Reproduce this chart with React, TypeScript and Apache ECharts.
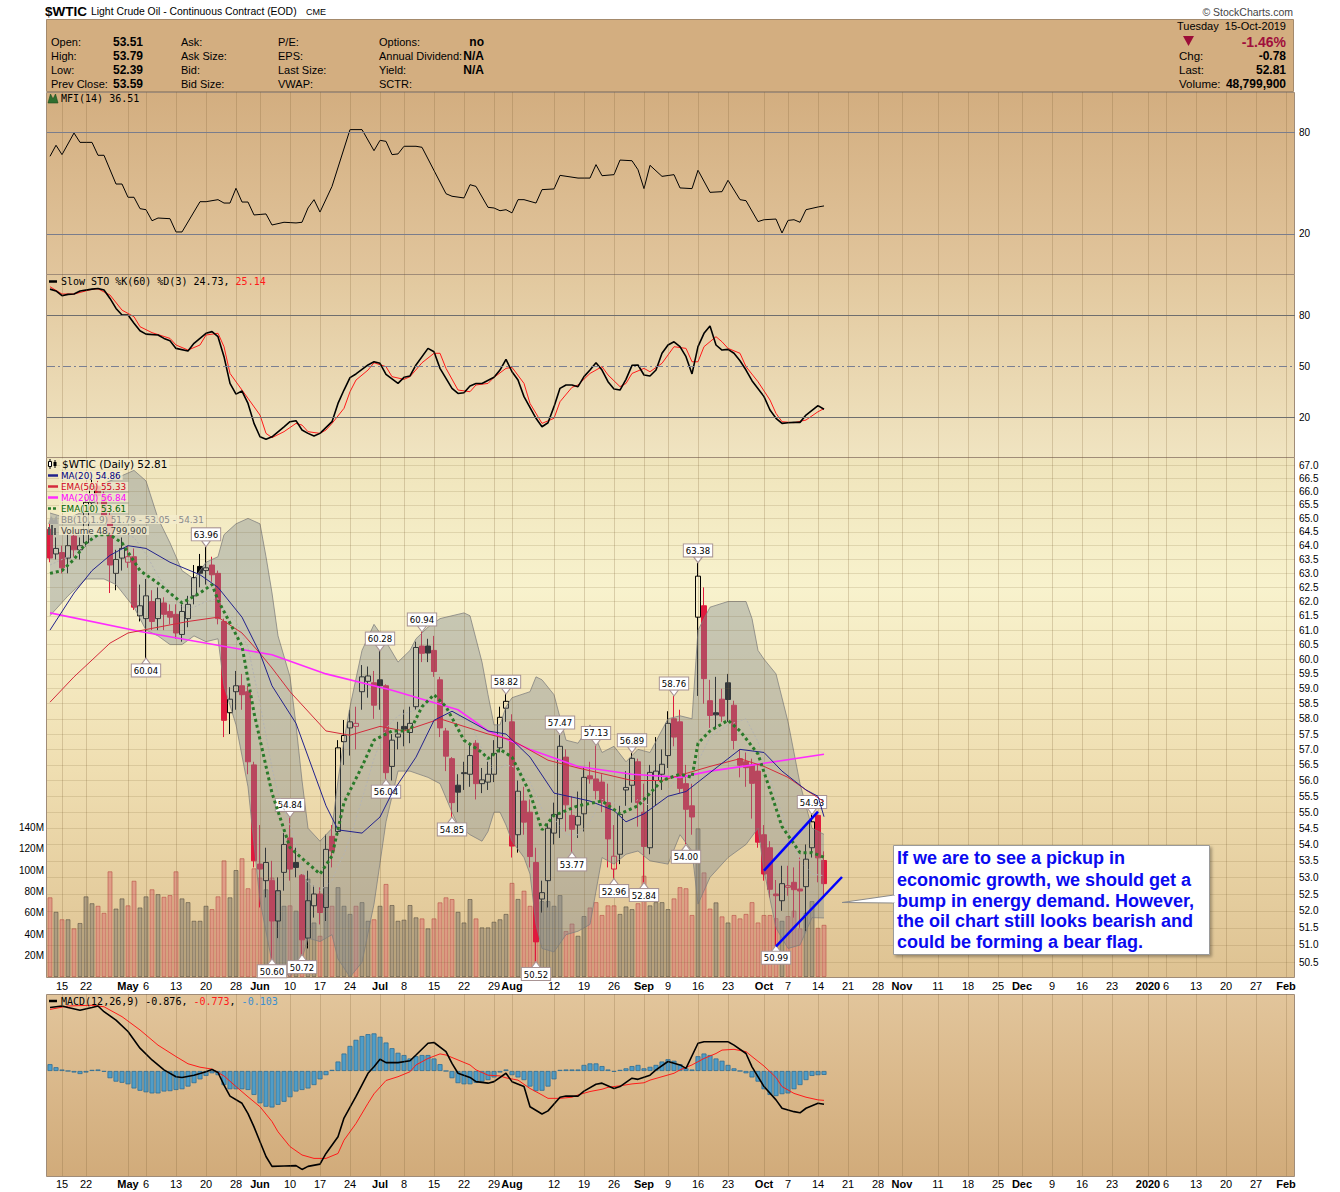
import React, { useEffect, useRef } from 'react';
import * as echarts from 'echarts';

// ---------------- categories ----------------
const CATEGORY_COUNT = 208; // trading days shown on the x axis (11 Apr 2019 .. 4 Feb 2020)
const HOLIDAYS = ['2019-04-19', '2019-05-27', '2019-07-04', '2019-09-02', '2019-11-28', '2019-12-25'];

const TICK_LABELS: [string, string][] = [
  ['2019-04-15', '15'], ['2019-04-22', '22'], ['2019-05-01', 'May'], ['2019-05-06', '6'], ['2019-05-13', '13'],
  ['2019-05-20', '20'], ['2019-05-28', '28'], ['2019-06-03', 'Jun'], ['2019-06-10', '10'], ['2019-06-17', '17'],
  ['2019-06-24', '24'], ['2019-07-01', 'Jul'], ['2019-07-08', '8'], ['2019-07-15', '15'], ['2019-07-22', '22'],
  ['2019-07-29', '29'], ['2019-08-01', 'Aug'], ['2019-08-12', '12'], ['2019-08-19', '19'], ['2019-08-26', '26'],
  ['2019-09-03', 'Sep'], ['2019-09-09', '9'], ['2019-09-16', '16'], ['2019-09-23', '23'], ['2019-10-01', 'Oct'],
  ['2019-10-07', '7'], ['2019-10-14', '14'], ['2019-10-21', '21'], ['2019-10-28', '28'], ['2019-11-01', 'Nov'],
  ['2019-11-11', '11'], ['2019-11-18', '18'], ['2019-11-25', '25'], ['2019-12-02', 'Dec'], ['2019-12-09', '9'],
  ['2019-12-16', '16'], ['2019-12-23', '23'], ['2020-01-01', '2020'], ['2020-01-06', '6'], ['2020-01-13', '13'],
  ['2020-01-20', '20'], ['2020-01-27', '27'], ['2020-02-03', 'Feb'],
];
const BOLD_TICKS = ['May', 'Jun', 'Jul', 'Aug', 'Sep', 'Oct', 'Nov', 'Dec', '2020', 'Feb'];

// ---------------- price data (daily OHLC) ----------------
const PREV_CLOSE_BEFORE_START = 64.61;
const opens = [
  64.6, 63.7, 63.75, 63.55, 64.35, 63.85, 64.1, 65.6, 66.2, 65.85,
  65.1, 63.0, 63.55, 63.4, 63.6, 61.5, 61.4, 62.0, 61.4, 61.95,
  61.65, 61.55, 60.85, 61.4, 62.2, 63.25, 63.1, 63.3, 63.0, 61.3,
  58.2, 58.9, 59.1, 58.9, 56.5, 53.4, 52.9, 52.9, 51.7, 53.15,
  54.2, 53.45, 53.05, 51.2, 52.15, 52.5, 52.1, 54.25, 54.4, 57.25,
  57.7, 57.75, 58.9, 59.25, 59.2, 59.3, 59.1, 56.45, 57.4, 57.75,
  57.55, 58.4, 60.45, 60.45, 60.3, 59.3, 57.6, 56.7, 55.85, 56.25,
  56.2, 57.2, 55.9, 55.95, 56.2, 57.05, 58.35, 57.9, 54.3, 55.35,
  55.0, 53.45, 52.35, 52.9, 54.35, 54.8, 56.75, 54.9, 54.6, 54.95,
  56.15, 56.05, 55.95, 55.3, 53.25, 53.7, 55.7, 55.85, 56.6, 55.0,
  53.9, 56.0, 56.2, 56.8, 58.0, 57.9, 55.9, 55.2, 61.45, 61.85,
  58.6, 58.2, 58.65, 59.2, 58.45, 56.7, 56.6, 56.5, 56.3, 54.3,
  53.9, 52.5, 52.3, 52.7, 52.85, 52.65, 52.72, 53.9, 54.9, 53.51,
];
const highs = [
  64.9, 64.3, 64.0, 64.4, 64.6, 64.3, 65.8, 66.5, 66.4, 66.0,
  65.3, 63.85, 64.3, 64.0, 63.9, 62.6, 62.8, 62.4, 62.5, 62.15,
  61.9, 61.9, 61.9, 62.2, 63.3, 63.7, 63.96, 63.6, 63.1, 61.4,
  59.05, 59.6, 59.5, 59.1, 56.6, 54.6, 53.9, 53.5, 53.0, 54.35,
  54.84, 53.9, 53.1, 53.2, 52.75, 52.7, 54.3, 54.6, 57.3, 57.96,
  58.3, 58.4, 59.8, 59.75, 59.6, 60.28, 59.15, 57.5, 57.9, 58.3,
  58.4, 60.6, 60.94, 60.7, 60.8, 59.4, 57.7, 56.75, 56.2, 56.6,
  57.2, 57.3, 56.4, 56.6, 57.3, 58.4, 58.82, 58.15, 56.0, 55.8,
  55.4, 53.9, 52.9, 54.65, 55.3, 57.47, 57.0, 55.5, 55.65, 56.4,
  56.6, 57.13, 56.2, 55.9, 54.6, 55.2, 56.3, 56.89, 56.7, 55.9,
  56.5, 57.4, 57.0, 58.25, 58.76, 58.3, 56.5, 55.9, 63.38, 62.5,
  59.3, 59.4, 59.0, 59.5, 58.6, 57.0, 56.9, 56.7, 56.5, 54.6,
  54.1, 52.92, 53.35, 53.35, 53.3, 53.6, 54.0, 54.93, 54.93, 53.79,
];
const lows = [
  63.4, 63.5, 63.0, 63.0, 63.6, 63.5, 63.96, 65.3, 65.5, 64.9,
  62.3, 62.4, 63.1, 63.2, 61.7, 61.3, 60.04, 61.0, 61.0, 61.0,
  61.2, 60.7, 60.6, 61.1, 61.9, 62.5, 62.6, 62.7, 61.2, 57.4,
  57.5, 58.3, 58.3, 56.2, 53.3, 52.1, 52.4, 50.6, 51.2, 52.6,
  52.9, 53.0, 50.72, 50.9, 51.8, 51.6, 51.7, 53.3, 54.3, 56.5,
  56.8, 57.0, 58.3, 58.7, 58.0, 58.3, 56.04, 56.0, 57.0, 57.1,
  57.2, 58.3, 59.9, 59.9, 59.4, 57.4, 56.3, 54.85, 55.0, 55.7,
  55.8, 55.4, 55.6, 55.7, 55.95, 56.9, 57.9, 53.6, 53.75, 54.3,
  53.3, 50.52, 51.95, 52.1, 54.0, 54.2, 54.4, 53.77, 54.2, 54.4,
  55.9, 55.4, 55.0, 53.3, 52.96, 53.4, 55.2, 55.3, 54.55, 52.84,
  53.7, 55.2, 55.7, 56.4, 57.1, 55.6, 54.0, 54.3, 58.76, 58.5,
  57.7, 57.7, 57.9, 57.9, 57.0, 56.1, 55.8, 54.8, 53.9, 52.9,
  52.4, 50.99, 52.0, 52.45, 51.8, 51.5, 51.4, 53.6, 52.85, 52.39,
];
const closes = [
  63.55, 63.9, 63.2, 64.0, 63.85, 64.0, 65.6, 66.2, 65.85, 65.1,
  63.3, 63.5, 63.9, 63.6, 61.8, 61.85, 62.2, 61.3, 62.1, 61.55,
  61.45, 60.9, 61.65, 61.9, 62.85, 63.0, 63.2, 62.95, 61.4, 57.95,
  58.65, 59.1, 58.8, 56.6, 53.5, 53.25, 53.45, 51.7, 52.6, 54.0,
  53.25, 53.3, 51.15, 52.3, 52.5, 51.95, 53.85, 53.8, 57.05, 57.45,
  57.9, 57.85, 59.4, 59.43, 58.45, 59.1, 56.25, 57.3, 57.5, 57.66,
  57.85, 60.4, 60.2, 60.21, 59.58, 57.7, 56.78, 55.3, 55.63, 56.22,
  56.8, 55.9, 56.02, 56.2, 56.87, 58.05, 58.58, 53.95, 55.66, 54.69,
  53.63, 51.09, 52.54, 54.5, 54.93, 57.1, 55.23, 54.47, 54.87, 56.1,
  56.05, 55.68, 55.35, 54.17, 53.64, 54.93, 55.78, 56.71, 55.3, 53.94,
  56.26, 56.3, 56.52, 57.85, 57.4, 55.75, 55.09, 54.85, 62.9, 59.34,
  58.11, 58.13, 58.09, 58.64, 57.29, 56.49, 56.41, 55.91, 54.07, 53.1,
  52.64, 52.45, 52.81, 52.75, 52.63, 52.59, 53.55, 54.7, 53.59, 52.81,
];
const volumesM = [
  74.5, 61, 54, 54, 45.5, 50.5, 75.4, 69, 66.6, 60,
  98.8, 64, 73.5, 67, 90, 65, 75.4, 82, 77.5, 75,
  76.6, 98.8, 73.5, 70, 52.6, 52.6, 66.6, 63.5, 75.4, 109,
  74.5, 100, 111, 83, 101.6, 93, 82, 93, 80.7, 66.6,
  67, 62, 96, 92, 51, 38.6, 84, 66.6, 84, 66.6,
  59, 66.6, 70, 52.6, 54, 66.6, 87, 67.3, 52.6, 53.6,
  67.3, 55.8, 54.8, 45.5, 54.8, 69.8, 74.5, 72.9, 61, 51,
  72.9, 54.8, 46.4, 46.4, 51.7, 54, 59, 88, 73, 80.7,
  66.6, 75, 71, 71, 66.6, 76.6, 43, 50, 38.6, 57,
  65, 70, 58, 67, 67, 59, 66, 63.5, 69, 94.7,
  67, 70, 70, 63.5, 73.5, 84, 83, 58, 139, 97.8,
  64, 69.8, 56.7, 51, 58, 54.8, 59, 70, 51, 58,
  58, 55, 52.6, 57, 62, 45.5, 60, 71, 46, 48.8,
];

// ---------------- overlays: [dayIndex, value] ----------------
const ma20 = [[0, 61.0], [4, 62.3], [7, 63.1], [10, 63.65], [13, 64.0], [16, 63.9], [20, 63.4], [25, 62.95], [28, 62.5], [32, 61.45], [35, 60.2], [37, 59.1], [41, 57.85], [46, 55.2], [48, 54.45], [52, 54.35], [55, 54.85], [57, 55.6], [61, 56.75], [64, 57.95], [67, 58.25], [73, 57.6], [76, 57.5], [80, 56.75], [84, 55.6], [90, 55.35], [94, 55.05], [96, 54.7], [99, 54.95], [103, 55.5], [106, 55.65], [110, 56.25], [115, 57.0], [119, 56.9], [122, 56.3], [126, 55.7], [128, 55.5], [129, 54.86]];
const ema50 = [[0, 58.55], [4, 59.4], [7, 59.97], [10, 60.55], [13, 60.9], [18, 61.1], [23, 61.3], [28, 61.45], [32, 60.9], [35, 60.2], [37, 59.7], [40, 58.9], [46, 57.6], [50, 57.46], [55, 57.75], [59, 57.6], [65, 58.0], [73, 57.5], [77, 57.3], [83, 56.65], [88, 56.4], [97, 56.0], [102, 56.0], [110, 56.45], [115, 56.7], [119, 56.45], [123, 56.1], [126, 55.7], [129, 55.33]];
const ma200 = [[0, 61.6], [15, 60.95], [37, 60.15], [46, 59.5], [57, 58.95], [68, 58.3], [73, 57.6], [80, 57.0], [88, 56.45], [97, 56.2], [105, 56.1], [110, 56.3], [119, 56.55], [129, 56.84]];
const ema10 = [[0, 63.0], [2, 63.1], [4, 63.5], [6, 64.1], [8, 64.4], [10, 64.4], [12, 64.1], [15, 63.1], [18, 62.65], [22, 61.95], [25, 62.3], [27, 62.6], [28, 62.05], [32, 60.45], [34, 58.2], [37, 55.6], [40, 53.9], [45, 53.1], [47, 53.65], [49, 55.3], [52, 56.45], [54, 57.3], [57, 57.6], [60, 57.6], [62, 58.4], [64, 58.8], [66, 58.4], [69, 57.3], [72, 56.9], [73, 56.7], [75, 57.0], [77, 56.75], [80, 55.6], [82, 54.45], [84, 54.9], [88, 55.2], [92, 55.35], [95, 54.95], [98, 55.2], [102, 56.0], [105, 56.2], [107, 56.1], [108, 57.2], [110, 57.6], [113, 57.95], [115, 57.6], [118, 56.85], [120, 55.7], [122, 54.55], [125, 53.75], [127, 53.75], [129, 53.61]];
const bbUpper = [[0, 65.2], [3, 65.0], [6, 65.3], [9, 66.3], [11, 66.5], [14, 66.8], [16, 66.4], [18, 65.0], [20, 64.1], [22, 63.1], [24, 62.8], [26, 63.4], [28, 63.6], [29, 64.4], [31, 64.8], [33, 65.0], [35, 64.8], [36, 63.6], [37, 62.3], [38, 60.8], [40, 59.4], [41, 57.8], [42, 56.0], [43, 54.5], [45, 54.1], [47, 54.5], [48, 56.0], [49, 57.3], [50, 58.4], [52, 60.3], [54, 61.2], [56, 60.6], [58, 59.9], [60, 60.3], [61, 60.7], [63, 61.1], [65, 61.4], [67, 61.5], [69, 61.6], [70, 61.5], [72, 59.9], [73, 58.8], [74, 57.8], [75, 57.8], [76, 58.4], [77, 58.7], [80, 58.9], [81, 59.4], [82, 59.3], [84, 58.8], [86, 57.3], [88, 57.2], [90, 57.8], [92, 56.9], [94, 57.1], [96, 56.6], [98, 57.0], [100, 56.9], [103, 58.0], [105, 58.1], [107, 58.0], [108, 61.0], [110, 61.8], [113, 62.0], [116, 62.0], [117, 61.4], [118, 60.3], [119, 60.0], [121, 59.5], [123, 57.9], [125, 55.9], [127, 54.5], [129, 54.31]];
const bbLower = [[0, 61.5], [3, 62.2], [6, 62.8], [9, 62.8], [11, 62.6], [14, 61.8], [16, 61.0], [18, 60.8], [20, 60.5], [22, 60.5], [24, 60.8], [26, 60.6], [28, 60.7], [29, 59.1], [31, 57.8], [33, 55.8], [35, 52.3], [37, 50.5], [38, 50.4], [40, 49.9], [42, 50.6], [43, 51.2], [45, 51.1], [47, 51.3], [48, 50.6], [50, 49.8], [52, 50.5], [54, 52.2], [56, 54.7], [58, 56.3], [60, 56.3], [63, 56.1], [65, 55.9], [67, 55.0], [68, 54.6], [70, 54.3], [72, 54.1], [73, 54.4], [74, 55.0], [75, 55.0], [76, 54.6], [77, 54.1], [79, 53.6], [80, 53.1], [81, 51.6], [82, 50.9], [84, 50.8], [86, 51.3], [88, 51.4], [90, 51.6], [92, 53.6], [94, 53.4], [96, 53.7], [98, 53.8], [100, 53.5], [103, 53.4], [105, 54.3], [107, 53.8], [108, 52.2], [110, 53.0], [113, 53.6], [116, 54.0], [118, 54.5], [119, 53.2], [121, 51.5], [123, 50.9], [125, 51.0], [127, 51.8], [129, 51.79]];
const bbMiddle = [[0, 63.3], [3, 63.6], [6, 64.0], [9, 64.5], [11, 64.5], [14, 64.3], [16, 63.7], [18, 62.9], [20, 62.3], [22, 61.8], [24, 61.8], [26, 62.0], [28, 62.1], [29, 61.7], [31, 61.3], [33, 60.4], [35, 58.5], [37, 56.4], [38, 55.6], [40, 54.6], [42, 53.3], [43, 52.85], [45, 52.6], [47, 52.9], [48, 53.35], [49, 53.7], [50, 54.2], [52, 55.4], [54, 56.7], [56, 57.7], [58, 58.1], [61, 58.3], [64, 58.6], [66, 58.5], [68, 58.1], [70, 57.9], [72, 57.0], [74, 56.3], [76, 56.5], [78, 56.4], [80, 55.96], [82, 55.1], [84, 54.8], [86, 54.3], [88, 54.3], [90, 54.7], [92, 55.4], [94, 55.3], [96, 55.1], [98, 55.4], [100, 55.2], [103, 55.7], [105, 56.2], [107, 55.9], [108, 56.6], [110, 57.4], [113, 57.8], [116, 58.0], [118, 57.25], [119, 56.6], [121, 55.5], [123, 54.4], [125, 53.5], [127, 53.1], [129, 53.05]];
const HIGH_LABELS = [[26, 63.96], [40, 54.84], [55, 60.28], [62, 60.94], [76, 58.82], [85, 57.47], [91, 57.13], [97, 56.89], [104, 58.76], [108, 63.38], [127, 54.93]];
const LOW_LABELS = [[16, 60.04], [37, 50.60], [42, 50.72], [56, 56.04], [67, 54.85], [81, 50.52], [87, 53.77], [94, 52.96], [99, 52.84], [106, 54.00], [121, 50.99]];
const trendUpper = [[119, 53.2], [128, 55.02]];
const trendLower = [[121, 50.96], [132, 53.01]];
const PRICE_TICKS = [67.0, 66.5, 66.0, 65.5, 65.0, 64.5, 64.0, 63.5, 63.0, 62.5, 62.0, 61.5, 61.0, 60.5, 60.0, 59.5, 59.0, 58.5, 58.0, 57.5, 57.0, 56.5, 56.0, 55.5, 55.0, 54.5, 54.0, 53.5, 53.0, 52.5, 52.0, 51.5, 51.0, 50.5];

// ---------------- indicators ----------------
const mfi = [[0, 65.7], [1, 72.2], [2, 66.7], [4, 79.4], [5, 73.9], [7, 73.9], [8, 66.3], [9, 66.3], [11, 49.4], [12, 49.4], [13, 41.6], [14, 41.6], [15, 34.9], [16, 34.3], [17, 27.8], [18, 29.4], [20, 29.0], [21, 21.2], [22, 21.2], [25, 39.0], [26, 39.0], [28, 40.2], [29, 38.2], [30, 38.2], [31, 46.9], [32, 38.8], [33, 38.8], [34, 31.2], [36, 31.8], [37, 25.3], [39, 26.9], [41, 26.5], [42, 26.9], [43, 35.3], [44, 40.2], [45, 32.9], [47, 48.0], [50, 81.4], [52, 81.4], [54, 69.0], [55, 75.1], [56, 74.5], [57, 66.7], [58, 67.1], [59, 71.6], [61, 71.6], [62, 71.0], [66, 43.7], [67, 42.2], [69, 41.2], [70, 49.0], [71, 48.0], [73, 35.7], [74, 35.3], [75, 33.7], [76, 34.3], [77, 32.4], [78, 40.2], [79, 40.2], [81, 38.2], [82, 46.1], [84, 46.5], [85, 54.5], [88, 52.9], [90, 52.9], [91, 60.8], [92, 54.3], [94, 54.9], [95, 63.5], [97, 63.1], [98, 57.8], [99, 46.7], [100, 60.4], [102, 53.9], [104, 54.9], [105, 47.1], [107, 46.7], [108, 57.5], [110, 44.5], [112, 44.9], [113, 51.6], [115, 40.2], [116, 39.6], [118, 27.3], [119, 28.4], [121, 28.8], [122, 20.6], [123, 28.0], [124, 28.4], [125, 26.9], [126, 34.3], [128, 35.9], [129, 36.51]];
const stoK = [[0, 95.7], [1, 94.6], [2, 91.8], [3, 92.6], [4, 92.8], [5, 94.6], [7, 95.7], [8, 96.1], [9, 95.2], [10, 90.2], [11, 84.3], [12, 80.4], [13, 80.4], [14, 75.5], [15, 71.1], [16, 69.1], [18, 68.6], [19, 66.6], [20, 65.2], [21, 60.7], [23, 59.1], [24, 63.7], [26, 69.6], [27, 70.6], [28, 67.6], [29, 55.8], [30, 40.0], [31, 33.7], [32, 35.5], [33, 28.2], [34, 16.4], [35, 8.5], [36, 7.0], [37, 8.5], [39, 14.4], [40, 17.4], [41, 18.0], [42, 12.5], [43, 10.5], [44, 8.9], [45, 10.5], [47, 17.4], [48, 28.2], [49, 36.1], [50, 43.4], [51, 45.6], [53, 50.9], [54, 52.8], [55, 51.9], [56, 45.4], [58, 40.0], [59, 43.6], [60, 44.4], [61, 50.9], [63, 60.7], [64, 58.7], [65, 48.9], [67, 37.1], [68, 34.1], [69, 34.5], [70, 38.5], [71, 40.0], [72, 40.0], [74, 43.6], [75, 47.9], [76, 54.2], [77, 46.9], [78, 42.0], [79, 32.2], [81, 19.4], [82, 14.4], [83, 16.8], [84, 26.3], [85, 37.1], [86, 39.1], [87, 39.1], [88, 38.1], [89, 44.0], [90, 47.9], [91, 52.2], [92, 47.9], [93, 41.0], [94, 36.7], [95, 36.1], [96, 42.4], [97, 50.7], [98, 50.9], [99, 45.0], [100, 44.4], [101, 47.9], [102, 57.8], [103, 62.7], [104, 64.6], [105, 61.7], [106, 55.8], [107, 45.6], [108, 61.7], [109, 69.6], [110, 73.9], [111, 62.7], [112, 59.7], [113, 60.1], [114, 57.8], [115, 53.4], [116, 47.9], [117, 41.6], [119, 32.2], [120, 24.3], [121, 19.4], [122, 16.4], [123, 16.8], [124, 17.0], [125, 17.0], [126, 21.3], [128, 26.9], [129, 24.73]];
const stoD = [[0, 97.1], [2, 92.8], [4, 92.8], [7, 95.6], [8, 95.9], [10, 92.2], [12, 83.3], [14, 79.4], [15, 73.5], [17, 70.0], [20, 66.6], [21, 62.7], [23, 59.7], [25, 62.7], [26, 68.6], [28, 69.6], [29, 61.7], [30, 45.9], [32, 36.1], [33, 31.2], [35, 21.3], [36, 10.5], [37, 8.0], [39, 11.5], [41, 16.4], [42, 15.4], [43, 11.5], [45, 10.5], [46, 12.5], [47, 16.4], [49, 25.3], [50, 35.1], [51, 42.0], [53, 47.9], [54, 52.2], [56, 49.9], [57, 44.0], [59, 42.4], [60, 44.0], [62, 52.2], [64, 57.8], [65, 57.8], [66, 48.9], [68, 36.1], [70, 35.1], [71, 39.1], [73, 40.0], [74, 43.6], [76, 48.9], [77, 49.5], [79, 40.0], [80, 28.2], [82, 16.4], [84, 19.4], [85, 29.2], [87, 37.7], [88, 39.1], [90, 45.9], [92, 49.9], [93, 45.0], [95, 38.1], [96, 40.0], [97, 45.9], [99, 48.9], [100, 46.9], [102, 51.9], [104, 61.7], [106, 60.7], [107, 52.8], [108, 52.8], [109, 61.7], [111, 67.6], [112, 64.6], [113, 60.7], [115, 57.8], [116, 49.9], [118, 41.0], [120, 30.2], [121, 22.3], [122, 17.4], [124, 16.8], [126, 18.4], [128, 23.3], [129, 25.14]];
const macd = [[0, 1.67], [2, 1.71], [3, 1.67], [5, 1.60], [7, 1.67], [8, 1.71], [9, 1.56], [11, 1.34], [13, 1.04], [15, 0.60], [17, 0.29], [19, 0.03], [21, -0.15], [22, -0.17], [24, -0.11], [26, -0.02], [27, 0.04], [28, -0.04], [29, -0.37], [30, -0.66], [32, -0.85], [33, -1.12], [34, -1.47], [35, -1.86], [36, -2.25], [37, -2.51], [39, -2.50], [41, -2.49], [42, -2.59], [43, -2.51], [45, -2.45], [46, -2.17], [48, -1.73], [49, -1.24], [51, -0.67], [53, -0.06], [54, 0.11], [55, 0.31], [56, 0.22], [58, 0.22], [60, 0.27], [61, 0.42], [63, 0.73], [64, 0.75], [66, 0.51], [67, 0.20], [68, -0.06], [70, -0.17], [71, -0.28], [73, -0.32], [74, -0.28], [76, -0.06], [77, -0.28], [79, -0.41], [80, -0.94], [82, -1.13], [83, -1.05], [85, -0.69], [86, -0.66], [88, -0.66], [89, -0.53], [91, -0.35], [92, -0.32], [94, -0.46], [95, -0.41], [97, -0.19], [98, -0.22], [100, -0.11], [101, 0.03], [103, 0.25], [105, 0.16], [106, 0.07], [108, 0.73], [109, 0.77], [111, 0.77], [113, 0.77], [114, 0.68], [116, 0.46], [117, 0.11], [119, -0.41], [121, -0.76], [122, -0.98], [124, -1.07], [125, -1.10], [126, -0.98], [128, -0.85], [129, -0.876]];
const macdSignal = [[0, 1.62], [3, 1.71], [7, 1.73], [9, 1.69], [12, 1.43], [15, 1.08], [18, 0.68], [21, 0.38], [23, 0.19], [25, 0.10], [27, 0.05], [29, -0.13], [31, -0.41], [33, -0.68], [35, -0.94], [37, -1.33], [38, -1.6], [40, -1.99], [42, -2.21], [44, -2.30], [46, -2.30], [48, -2.17], [49, -1.82], [51, -1.38], [53, -0.85], [54, -0.6], [56, -0.25], [58, -0.15], [60, -0.02], [61, 0.16], [63, 0.33], [65, 0.45], [66, 0.42], [68, 0.29], [70, 0.16], [71, 0.03], [73, -0.11], [75, -0.13], [76, -0.18], [78, -0.24], [80, -0.46], [82, -0.63], [83, -0.72], [85, -0.72], [87, -0.69], [88, -0.63], [90, -0.54], [92, -0.48], [93, -0.43], [95, -0.39], [97, -0.34], [99, -0.31], [100, -0.24], [102, -0.15], [104, -0.06], [105, 0.03], [107, 0.16], [109, 0.33], [111, 0.46], [112, 0.55], [114, 0.57], [116, 0.51], [117, 0.38], [119, 0.13], [121, -0.17], [122, -0.41], [124, -0.59], [126, -0.69], [128, -0.76], [129, -0.773]];
const macdHist = [
  0.18, 0.10, 0.04, 0, -0.04, -0.08, -0.04, 0.03, 0.04, -0.02,
  -0.19, -0.28, -0.31, -0.35, -0.46, -0.52, -0.56, -0.59, -0.59, -0.54,
  -0.53, -0.50, -0.48, -0.41, -0.32, -0.22, -0.13, -0.06, -0.11, -0.37,
  -0.48, -0.48, -0.48, -0.50, -0.63, -0.85, -0.94, -0.96, -0.89, -0.81,
  -0.69, -0.54, -0.50, -0.46, -0.37, -0.22, -0.11, 0.03, 0.25, 0.46,
  0.66, 0.82, 0.92, 0.97, 0.99, 0.90, 0.75, 0.60, 0.48, 0.42,
  0.33, 0.39, 0.42, 0.42, 0.33, 0.18, 0, -0.19, -0.32, -0.35,
  -0.35, -0.31, -0.28, -0.24, -0.17, -0.04, 0.04, -0.11, -0.17, -0.24,
  -0.41, -0.53, -0.52, -0.41, -0.22, 0.03, 0.04, 0.04, 0.04, 0.16,
  0.20, 0.20, 0.13, 0.04, -0.02, 0.03, 0.07, 0.13, 0.16, 0.07,
  0.11, 0.16, 0.25, 0.31, 0.27, 0.18, 0.07, 0.04, 0.39, 0.46,
  0.42, 0.33, 0.27, 0.16, 0.07, 0, -0.06, -0.17, -0.28, -0.48,
  -0.63, -0.66, -0.61, -0.59, -0.48, -0.37, -0.24, -0.13, -0.11, -0.103,
];
const MACD_TICKS = [2.0, 1.5, 1.0, 0.5, 0.0, -0.5, -1.0, -1.5, -2.0, -2.5];

// ---------------- layout ----------------
const PL = 47, PW = 1248;
const MFI_T = 92, MFI_H = 182;
const STO_T = 274, STO_H = 183;
const PR_T = 457, PR_H = 520;
const MD_T = 994, MD_H = 182;
const RED = '#e0193d';
const VGRID = 'rgba(120,90,50,0.24)';

function buildTradingDays() {
  const out = [];
  const d = new Date(Date.UTC(2019, 3, 11));
  while (out.length < CATEGORY_COUNT) {
    const wd = d.getUTCDay();
    const s = d.toISOString().slice(0, 10);
    if (wd !== 0 && wd !== 6 && HOLIDAYS.indexOf(s) < 0) out.push(s);
    d.setUTCDate(d.getUTCDate() + 1);
  }
  return out;
}

function buildOption() {
  const days = buildTradingDays();
  const tickMap = new Map(TICK_LABELS);
  const vLines = TICK_LABELS.map(([d]) => ({ xAxis: d, label: { show: false }, lineStyle: { color: VGRID, width: 1, type: 'solid', opacity: 1 } }));
  const mlBase = (data) => ({
    silent: true, symbol: ['none', 'none'], animation: false,
    label: { show: true, position: 'end', distance: 4, fontSize: 10, fontFamily: 'Liberation Sans', color: '#000' },
    emphasis: { disabled: true },
    data,
  });
  const hl = (v, text, style) => ({ yAxis: v, label: text == null ? { show: false } : { show: true, formatter: text }, lineStyle: Object.assign({ width: 1, type: 'solid' }, style) });

  const grids = [
    { left: PL, top: MFI_T, width: PW, height: MFI_H },
    { left: PL, top: STO_T, width: PW, height: STO_H },
    { left: PL, top: PR_T, width: PW, height: PR_H },
    { left: PL, top: PR_T, width: PW, height: PR_H },
    { left: PL, top: MD_T, width: PW, height: MD_H },
  ].map((g) => Object.assign({ containLabel: false, outerBoundsMode: 'none', show: false }, g));

  const labelFmt = (val) => {
    const l = tickMap.get(val);
    if (!l) return '';
    return BOLD_TICKS.indexOf(l) >= 0 ? '{b|' + l + '}' : l;
  };
  const xAxis = [0, 1, 2, 3, 4].map((gi) => ({
    type: 'category', gridIndex: gi, data: days, boundaryGap: true,
    axisLine: { show: false }, axisTick: { show: false }, splitLine: { show: false },
    axisLabel: (gi === 2 || gi === 4) ? {
      show: true, interval: 0, margin: gi === 2 ? 3 : 2, fontSize: 11, fontFamily: 'Liberation Sans', color: '#000',
      formatter: labelFmt,
      rich: { b: { fontWeight: 'bold', fontSize: 11, fontFamily: 'Liberation Sans', color: '#000' } },
    } : { show: false },
  }));
  const hiddenY = (gi, min, max, type) => ({ type: type || 'value', gridIndex: gi, min, max, show: false, axisLabel: { show: false }, splitLine: { show: false }, axisLine: { show: false }, axisTick: { show: false } });
  const yAxis = [
    hiddenY(0, -3.53, 103.53),
    hiddenY(1, -3.45, 104.63),
    Object.assign(hiddenY(2, 50.08, 67.31, 'log'), { logBase: 10 }),
    {
      type: 'value', gridIndex: 3, min: 0, max: 486e6, interval: 20e6, position: 'left',
      axisLine: { show: false }, axisTick: { show: false }, splitLine: { show: false },
      axisLabel: {
        show: true, margin: 3, fontSize: 10, fontFamily: 'Liberation Sans', color: '#000',
        formatter: (v) => (v >= 20e6 && v <= 140e6 ? Math.round(v / 1e6) + 'M' : ''),
      },
    },
    hiddenY(4, -2.763, 2.026),
  ];

  const candleData = opens.map((o, i) => {
    const c = closes[i];
    const pc = i === 0 ? PREV_CLOSE_BEFORE_START : closes[i - 1];
    const col = c >= pc ? '#000000' : RED;
    const fill = c > o ? 'rgba(0,0,0,0)' : col;
    return { value: [o, c, lows[i], highs[i]], itemStyle: { color: fill, color0: fill, borderColor: col, borderColor0: col, borderWidth: 1 } };
  });
  const volData = volumesM.map((v, i) => {
    const pc = i === 0 ? PREV_CLOSE_BEFORE_START : closes[i - 1];
    const up = closes[i] >= pc;
    return {
      value: v * 1e6,
      itemStyle: up
        ? { color: 'rgba(110,104,100,0.45)', borderColor: 'rgba(80,72,60,0.55)', borderWidth: 1 }
        : { color: 'rgba(214,98,104,0.45)', borderColor: 'rgba(185,80,70,0.6)', borderWidth: 1 },
    };
  });
  const histData = macdHist.map((v) => v);

  const markData = HIGH_LABELS.map(([i, v]) => ({ coord: [i, v], value: v, symbolRotate: 180, symbolOffset: [0, -3], label: { position: 'top', distance: 0 } }))
    .concat(LOW_LABELS.map(([i, v]) => ({ coord: [i, v], value: v, symbolRotate: 0, symbolOffset: [0, 3], label: { position: 'bottom', distance: 0 } })));

  const line = (name, xi, data, style, z) => ({
    type: 'line', name, xAxisIndex: xi, yAxisIndex: xi, data, symbol: 'none', showSymbol: false, silent: true, z,
    lineStyle: style, emphasis: { disabled: true },
  });

  const series = [
    Object.assign(line('MFI', 0, mfi, { color: '#000', width: 1 }, 3), {
      markLine: mlBase(vLines.concat([
        hl(80, '80', { color: '#7a7d8c' }), hl(20, '20', { color: '#7a7d8c' }), hl(50, '50', { opacity: 0 }),
      ])),
    }),
    Object.assign(line('%K', 1, stoK, { color: '#000', width: 1.6 }, 4), {
      markLine: mlBase(vLines.concat([
        hl(80, '80', { color: '#6e6e6e' }), hl(20, '20', { color: '#6e6e6e' }), hl(50, '50', { color: '#7a7f92', type: [8, 3, 2, 3] }),
      ])),
    }),
    line('%D', 1, stoD, { color: '#ff1a1a', width: 1 }, 3),
    Object.assign(line('priceGrid', 2, [[0, 60]], { width: 0, opacity: 0 }, 1), {
      markLine: mlBase(vLines.concat(PRICE_TICKS.map((v) => hl(v, v.toFixed(1), { color: 'rgba(120,95,50,0.17)' })))),
    }),
    { type: 'bar', name: 'Volume', xAxisIndex: 3, yAxisIndex: 3, data: volData, barWidth: 5, silent: true, z: 2, emphasis: { disabled: true } },
    { type: 'candlestick', name: '$WTIC', xAxisIndex: 2, yAxisIndex: 2, data: candleData, barWidth: 5, silent: true, z: 3, emphasis: { disabled: true } },
    {
      type: 'custom', name: 'BB', xAxisIndex: 2, yAxisIndex: 2, z: 4, silent: true, clip: true, data: [[0, 60]],
      renderItem: (params, api) => {
        const cs = params.coordSys;
        const bottom = cs.y + cs.height;
        const clamp = (p) => [p[0], Math.min(p[1], bottom)];
        const up = bbUpper.map(([i, v]) => clamp(api.coord([i, v])));
        const lo = bbLower.map(([i, v]) => clamp(api.coord([i, v])));
        return {
          type: 'group',
          children: [
            { type: 'polygon', shape: { points: up.concat(lo.slice().reverse()) }, style: { fill: 'rgba(128,138,145,0.40)' } },
            { type: 'polyline', shape: { points: up }, style: { fill: null, stroke: 'rgba(125,125,125,0.75)', lineWidth: 1 } },
            { type: 'polyline', shape: { points: lo }, style: { fill: null, stroke: 'rgba(125,125,125,0.75)', lineWidth: 1 } },
          ],
        };
      },
    },
    line('BB mid', 2, bbMiddle, { color: '#b4b4b4', width: 1, type: [2, 2] }, 5),
    line('MA(200)', 2, ma200, { color: '#ff2aff', width: 1.6 }, 5),
    line('EMA(50)', 2, ema50, { color: '#d42b3c', width: 1 }, 5),
    line('MA(20)', 2, ma20, { color: '#22228c', width: 1 }, 6),
    line('EMA(10)', 2, ema10, { color: '#2a7a2a', width: 3, type: [3, 3], cap: 'butt' }, 6),
    line('trendU', 2, trendUpper, { color: '#0000ff', width: 2.5 }, 7),
    line('trendL', 2, trendLower, { color: '#0000ff', width: 2.5 }, 7),
    Object.assign(line('labels', 2, [[0, 60]], { width: 0, opacity: 0 }, 10), {
      markPoint: {
        silent: true, animation: false, symbol: 'triangle', symbolSize: [9, 6],
        itemStyle: { color: '#fff', borderColor: '#a89494', borderWidth: 1 },
        label: {
          show: true, formatter: (p) => Number(p.value).toFixed(2), fontSize: 8.5, fontFamily: 'DejaVu Sans', color: '#000',
          backgroundColor: '#fff', borderColor: '#a89494', borderWidth: 1, padding: [2, 2, 1, 2],
        },
        data: markData,
      },
    }),
    {
      type: 'bar', name: 'Hist', xAxisIndex: 4, yAxisIndex: 4, data: histData, barWidth: 5, silent: true, z: 2,
      itemStyle: { color: '#4f9dc8', borderColor: '#2f6d94', borderWidth: 0.8 }, emphasis: { disabled: true },
    },
    Object.assign(line('MACD', 4, macd, { color: '#000', width: 1.6 }, 4), {
      markLine: mlBase(vLines.concat(MACD_TICKS.map((v) => hl(v, v.toFixed(1), { opacity: 0 })))),
    }),
    line('Signal', 4, macdSignal, { color: '#ff1a1a', width: 1 }, 3),
  ];

  // ---------- static graphics ----------
  const F = 'Liberation Sans';
  const t = (x, y, text, o) => ({ type: 'text', x, y, z: 100, silent: true, style: Object.assign({ text, fontSize: 11, fontFamily: F, fill: '#000', align: 'left', verticalAlign: 'middle' }, o || {}) });
  const grad = (stops) => new echarts.graphic.LinearGradient(0, 0, 0, 1, stops.map(([o, c]) => ({ offset: o, color: c })));
  const panel = (y, h, stops) => ({ type: 'rect', z: 0, silent: true, shape: { x: PL - 0.5, y: y + 0.5, width: PW, height: h }, style: { fill: grad(stops), stroke: '#a08c78', lineWidth: 1 } });
  const lbg = 'rgba(244,236,205,0.78)';
  const rowY = [41.5, 55.5, 70, 84];
  const graphics = [
    { type: 'rect', z: 0, silent: true, shape: { x: 46.5, y: 19.5, width: 1247, height: 72 }, style: { fill: '#d3ae80', stroke: '#a48a6c', lineWidth: 1 } },
    panel(MFI_T, MFI_H, [[0, '#d3ae80'], [1, '#e1c59c']]),
    panel(STO_T, STO_H, [[0, '#e2c89e'], [1, '#f0e4c1']]),
    panel(PR_T, PR_H, [[0, '#efe4bb'], [0.25, '#f8f2cd'], [0.6, '#efdeb1'], [1, '#dec292']]),
    panel(MD_T, MD_H, [[0, '#e2c59b'], [1, '#d1ab7a']]),
    t(45, 11, '$WTIC', { fontWeight: 'bold', fontSize: 13.5 }),
    t(91, 11.5, 'Light Crude Oil - Continuous Contract (EOD)', { fontSize: 10.4 }),
    t(306, 12, 'CME', { fontSize: 9 }),
    t(1293, 12, '\u00A9 StockCharts.com', { fontSize: 10.5, fill: '#444', align: 'right' }),
    ...['Open:', 'High:', 'Low:', 'Prev Close:'].map((s, i) => t(51, rowY[i], s)),
    ...['53.51', '53.79', '52.39', '53.59'].map((s, i) => t(143, rowY[i], s, { fontWeight: 'bold', fontSize: 12, align: 'right' })),
    ...['Ask:', 'Ask Size:', 'Bid:', 'Bid Size:'].map((s, i) => t(181, rowY[i], s)),
    ...['P/E:', 'EPS:', 'Last Size:', 'VWAP:'].map((s, i) => t(278, rowY[i], s)),
    ...['Options:', 'Annual Dividend:', 'Yield:', 'SCTR:'].map((s, i) => t(379, rowY[i], s)),
    ...['no', 'N/A', 'N/A'].map((s, i) => t(484, rowY[i], s, { fontWeight: 'bold', fontSize: 12, align: 'right' })),
    t(1286, 25.5, 'Tuesday  15-Oct-2019', { fontSize: 11, align: 'right' }),
    { type: 'polygon', z: 100, silent: true, shape: { points: [[1183, 36], [1194, 36], [1188.5, 46]] }, style: { fill: '#9c0d38' } },
    t(1286, 41.5, '-1.46%', { fontWeight: 'bold', fontSize: 14, fill: '#a00f3c', align: 'right' }),
    ...['Chg:', 'Last:', 'Volume:'].map((s, i) => t(1179, rowY[i + 1], s, { fontSize: 11.5 })),
    ...['-0.78', '52.81', '48,799,900'].map((s, i) => t(1286, rowY[i + 1], s, { fontWeight: 'bold', fontSize: 12, align: 'right' })),
    { type: 'polygon', z: 100, silent: true, shape: { points: [[48, 103], [50.5, 94], [53, 99], [55.5, 94], [58, 103]] }, style: { fill: '#2f6e2f', stroke: '#1b4a1b', lineWidth: 0.6 } },
    t(61, 98.5, 'MFI(14) 36.51', { fontFamily: 'DejaVu Sans Mono', fontSize: 10 }),
    { type: 'line', z: 100, silent: true, shape: { x1: 49, y1: 281.5, x2: 57, y2: 281.5 }, style: { stroke: '#000', lineWidth: 2.5 } },
    t(61, 281.5, '{k|Slow STO %K(60) %D(3) 24.73, }{r|25.14}', { fontFamily: 'DejaVu Sans Mono', fontSize: 10, rich: { k: { fill: '#000', fontFamily: 'DejaVu Sans Mono', fontSize: 10 }, r: { fill: '#ff1a1a', fontFamily: 'DejaVu Sans Mono', fontSize: 10 } } }),
    { type: 'line', z: 100, silent: true, shape: { x1: 49, y1: 1001, x2: 57, y2: 1001 }, style: { stroke: '#000', lineWidth: 2.5 } },
    t(61, 1001, '{k|MACD(12,26,9) -0.876, }{r|-0.773}{k|, }{b|-0.103}', { fontFamily: 'DejaVu Sans Mono', fontSize: 10, rich: { k: { fill: '#000', fontFamily: 'DejaVu Sans Mono', fontSize: 10 }, r: { fill: '#ff1a1a', fontFamily: 'DejaVu Sans Mono', fontSize: 10 }, b: { fill: '#3a8fd0', fontFamily: 'DejaVu Sans Mono', fontSize: 10 } } }),
    { type: 'rect', z: 99, silent: true, shape: { x: 48, y: 459, width: 8, height: 10 }, style: { fill: lbg } },
    { type: 'line', z: 100, silent: true, shape: { x1: 50, y1: 459, x2: 50, y2: 469 }, style: { stroke: '#000', lineWidth: 1 } },
    { type: 'rect', z: 100, silent: true, shape: { x: 48.5, y: 461.5, width: 3, height: 5 }, style: { fill: '#fff', stroke: '#000', lineWidth: 1 } },
    { type: 'line', z: 100, silent: true, shape: { x1: 55, y1: 460, x2: 55, y2: 468 }, style: { stroke: '#000', lineWidth: 1 } },
    { type: 'rect', z: 100, silent: true, shape: { x: 53.5, y: 462, width: 3, height: 4 }, style: { fill: '#000' } },
    t(60, 464, '$WTIC (Daily) 52.81', { fontFamily: 'DejaVu Sans', fontSize: 10.5, backgroundColor: lbg, padding: [0, 2] }),
    { type: 'line', z: 100, silent: true, shape: { x1: 48, y1: 475.5, x2: 58, y2: 475.5 }, style: { stroke: '#22228c', lineWidth: 2.5 } },
    t(59, 475.5, 'MA(20) 54.86', { fontFamily: 'DejaVu Sans', fontSize: 8.8, fill: '#000080', backgroundColor: lbg, padding: [0, 2] }),
    { type: 'line', z: 100, silent: true, shape: { x1: 48, y1: 486.5, x2: 58, y2: 486.5 }, style: { stroke: '#d42b3c', lineWidth: 2.5 } },
    t(59, 486.5, 'EMA(50) 55.33', { fontFamily: 'DejaVu Sans', fontSize: 8.8, fill: '#d0021b', backgroundColor: lbg, padding: [0, 2] }),
    { type: 'line', z: 100, silent: true, shape: { x1: 48, y1: 497.5, x2: 58, y2: 497.5 }, style: { stroke: '#ff2aff', lineWidth: 2.5 } },
    t(59, 497.5, 'MA(200) 56.84', { fontFamily: 'DejaVu Sans', fontSize: 8.8, fill: '#ff00ff', backgroundColor: lbg, padding: [0, 2] }),
    { type: 'line', z: 100, silent: true, shape: { x1: 48, y1: 508.5, x2: 58, y2: 508.5 }, style: { stroke: '#2a7a2a', lineWidth: 2.5, lineDash: [3, 2] } },
    t(59, 508.5, 'EMA(10) 53.61', { fontFamily: 'DejaVu Sans', fontSize: 8.8, fill: '#006400', backgroundColor: lbg, padding: [0, 2] }),
    { type: 'polygon', z: 100, silent: true, shape: { points: [[48, 524], [51, 516], [54, 520], [56.5, 515], [58, 524]] }, style: { fill: '#a8a8a0' } },
    t(59, 519.5, 'BB(10,1.9) 51.79 - 53.05 - 54.31', { fontFamily: 'DejaVu Sans', fontSize: 8.8, fill: '#8a8a8a', backgroundColor: lbg, padding: [0, 2] }),
    { type: 'rect', z: 100, silent: true, shape: { x: 48, y: 527, width: 2, height: 8 }, style: { fill: '#555' } },
    { type: 'rect', z: 100, silent: true, shape: { x: 51, y: 525, width: 2, height: 10 }, style: { fill: '#555' } },
    { type: 'rect', z: 100, silent: true, shape: { x: 54, y: 528, width: 2, height: 7 }, style: { fill: '#555' } },
    t(59, 530.5, 'Volume 48,799,900', { fontFamily: 'DejaVu Sans', fontSize: 8.8, fill: '#404040', backgroundColor: lbg, padding: [0, 2] }),
    { type: 'rect', z: 100, silent: true, shape: { x: 893.5, y: 845.5, width: 316, height: 109 }, style: { fill: '#fff', stroke: '#9a9a9a', lineWidth: 1, shadowBlur: 3, shadowOffsetX: 2, shadowOffsetY: 2, shadowColor: 'rgba(0,0,0,0.3)' } },
    { type: 'polygon', z: 101, silent: true, shape: { points: [[894, 895], [842, 902.5], [894, 903]] }, style: { fill: '#fff', stroke: '#8a8a8a', lineWidth: 1 } },
    { type: 'rect', z: 102, silent: true, shape: { x: 892.5, y: 895.8, width: 3, height: 6.6 }, style: { fill: '#fff' } },
    ...['If we are to see a pickup in', 'economic growth, we should get a', 'bump in energy demand. However,', 'the oil chart still looks bearish and', 'could be forming a bear flag.']
      .map((s, i) => t(897, [858, 879.5, 900.5, 921, 942][i], s, { fontWeight: 'bold', fontSize: 18, fill: '#0a0af0' })),
  ];

  return {
    animation: false,
    backgroundColor: '#ffffff',
    grid: grids,
    xAxis,
    yAxis,
    series,
    graphic: { elements: graphics },
  };
}

export default function App() {
  const ref = useRef(null);
  useEffect(() => {
    if (!ref.current) return undefined;
    const chart = echarts.init(ref.current, undefined, { renderer: 'svg' });
    chart.setOption(buildOption());
    return () => chart.dispose();
  }, []);
  return <div ref={ref} style={{ position: 'absolute', left: 0, top: 0, width: 1340, height: 1192, background: '#fff' }} />;
}
